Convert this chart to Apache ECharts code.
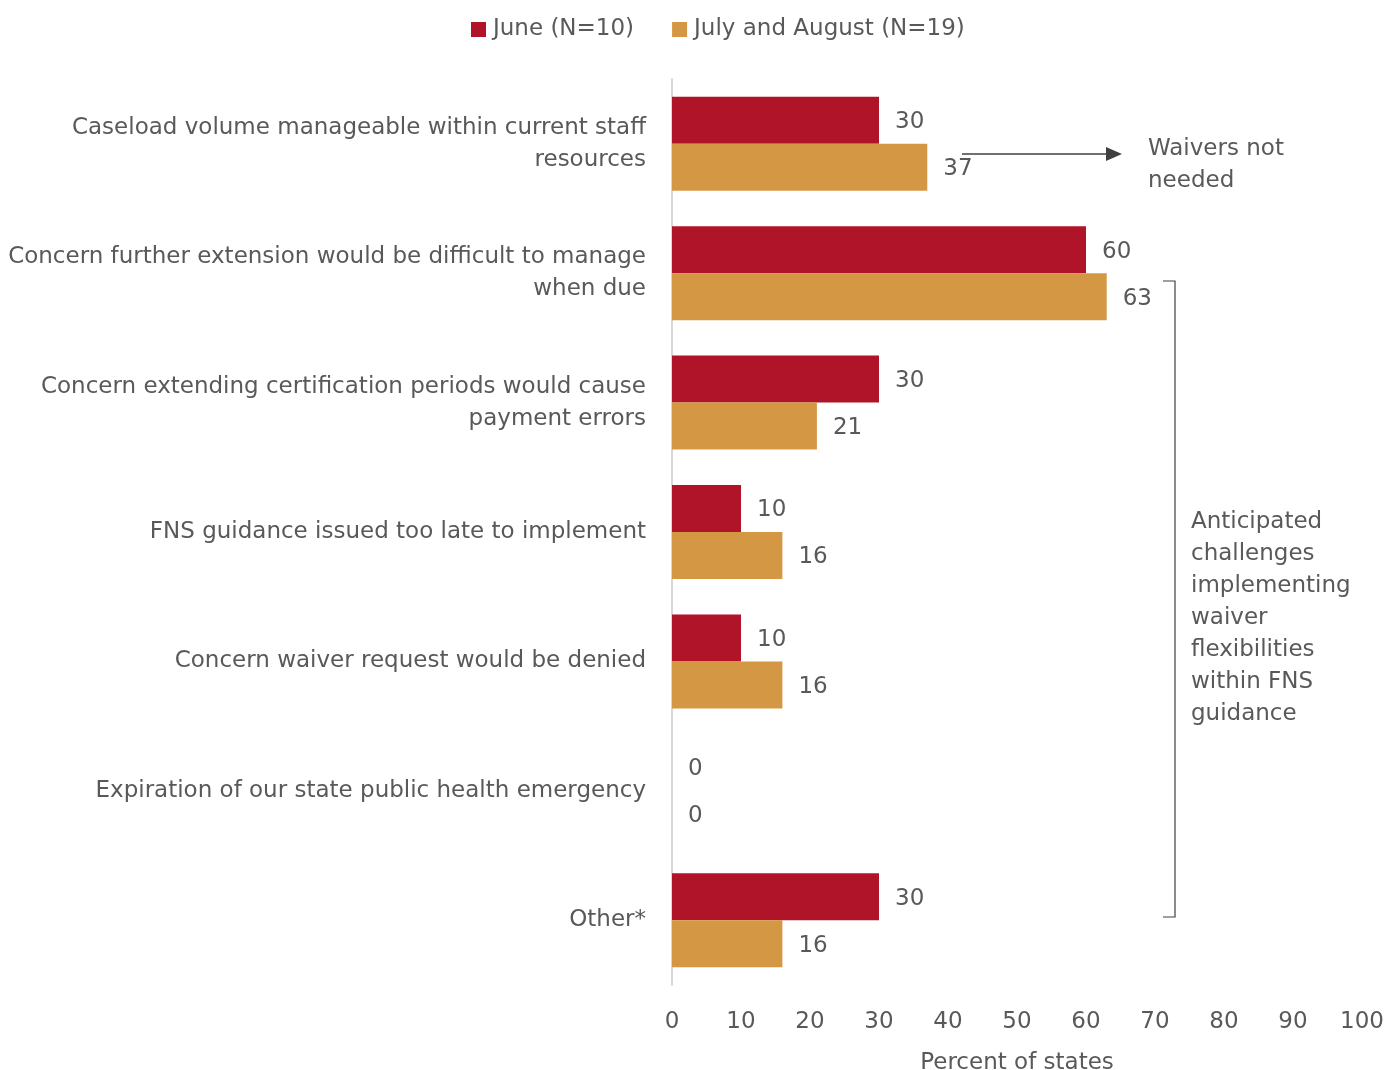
<!DOCTYPE html>
<html>
<head>
<meta charset="utf-8">
<script src="https://cdn.jsdelivr.net/npm/echarts@6/dist/echarts.min.js"></script>
<style>
  html, body { margin: 0; padding: 0; background: #fff; }
  #chart { width: 1387px; height: 1070px; }
</style>
</head>
<body>
<div id="chart"></div>
<script>
// Reasons states gave for not requesting waiver flexibilities
const categories = [
  'Caseload volume manageable within current staff\nresources',
  'Concern further extension would be difficult to manage\nwhen due',
  'Concern extending certification periods would cause\npayment errors',
  'FNS guidance issued too late to implement',
  'Concern waiver request would be denied',
  'Expiration of our state public health emergency',
  'Other*'
];
const juneValues = [30, 60, 30, 10, 10, 0, 30];
const julyAugValues = [37, 63, 21, 16, 16, 0, 16];
const seriesNames = ['June (N=10)', 'July and August (N=19)'];
const xTicks = [0, 10, 20, 30, 40, 50, 60, 70, 80, 90, 100];

const FONT = '"DejaVu Sans", sans-serif';
const FS = 23;
const TEXT = '#595959';
const RED = '#B01428';
const GOLD = '#D49744';

const chart = echarts.init(document.getElementById('chart'), null, { renderer: 'canvas' });

const labelStyle = {
  show: true,
  position: 'right',
  distance: 16,
  offset: [0, 2],
  fontFamily: FONT,
  fontSize: FS,
  color: TEXT
};

chart.setOption({
  animation: false,
  textStyle: { fontFamily: FONT },
  legend: {
    top: 13,
    left: 466,
    itemWidth: 15,
    itemHeight: 15,
    itemGap: 38,
    itemStyle: { borderWidth: 0 },
    icon: 'rect',
    textStyle: { fontFamily: FONT, fontSize: FS, color: TEXT, padding: [0, 0, 0, 2] },
    data: seriesNames
  },
  grid: {
    left: 672, right: 25, top: 79, bottom: 85,
    containLabel: false, outerBoundsMode: 'none'
  },
  xAxis: {
    type: 'value',
    min: xTicks[0],
    max: xTicks[xTicks.length - 1],
    interval: 10,
    splitLine: { show: false },
    axisLine: { show: false },
    axisTick: { show: false },
    axisLabel: { fontFamily: FONT, fontSize: FS, color: TEXT, margin: 26 },
    name: 'Percent of states',
    nameLocation: 'middle',
    nameGap: 67,
    nameTextStyle: { fontFamily: FONT, fontSize: FS, color: TEXT }
  },
  yAxis: {
    type: 'category',
    inverse: true,
    data: categories,
    axisLine: { show: true, lineStyle: { color: '#d9d9d9', width: 2 } },
    axisTick: { show: false },
    axisLabel: {
      fontFamily: FONT, fontSize: FS, color: TEXT, margin: 26,
      lineHeight: 32, align: 'right', padding: [5, 0, 0, 0]
    }
  },
  series: [
    {
      name: seriesNames[0],
      type: 'bar',
      data: juneValues,
      barWidth: 47,
      barGap: '0%',
      itemStyle: { color: RED },
      label: labelStyle
    },
    {
      name: seriesNames[1],
      type: 'bar',
      data: julyAugValues,
      barWidth: 47,
      barGap: '0%',
      itemStyle: { color: GOLD },
      label: labelStyle
    }
  ],
  graphic: [
    // arrow pointing to the "Waivers not needed" note
    {
      type: 'line',
      shape: { x1: 962, y1: 154, x2: 1108, y2: 154 },
      style: { stroke: '#404040', lineWidth: 1.5 }
    },
    {
      type: 'polygon',
      shape: { points: [[1106, 147], [1122, 154], [1106, 161]] },
      style: { fill: '#404040' }
    },
    {
      type: 'text',
      left: 1148, top: 133,
      style: {
        text: 'Waivers not\nneeded',
        font: FS + 'px ' + FONT,
        fill: TEXT,
        lineHeight: 32
      }
    },
    // bracket grouping the anticipated challenges
    {
      type: 'polyline',
      shape: { points: [[1163, 281], [1175, 281], [1175, 917], [1163, 917]] },
      style: { stroke: '#404040', lineWidth: 1.2, fill: null }
    },
    {
      type: 'text',
      left: 1191, top: 506,
      style: {
        text: 'Anticipated\nchallenges\nimplementing\nwaiver\nflexibilities\nwithin FNS\nguidance',
        font: FS + 'px ' + FONT,
        fill: TEXT,
        lineHeight: 32
      }
    }
  ]
});
</script>
</body>
</html>
